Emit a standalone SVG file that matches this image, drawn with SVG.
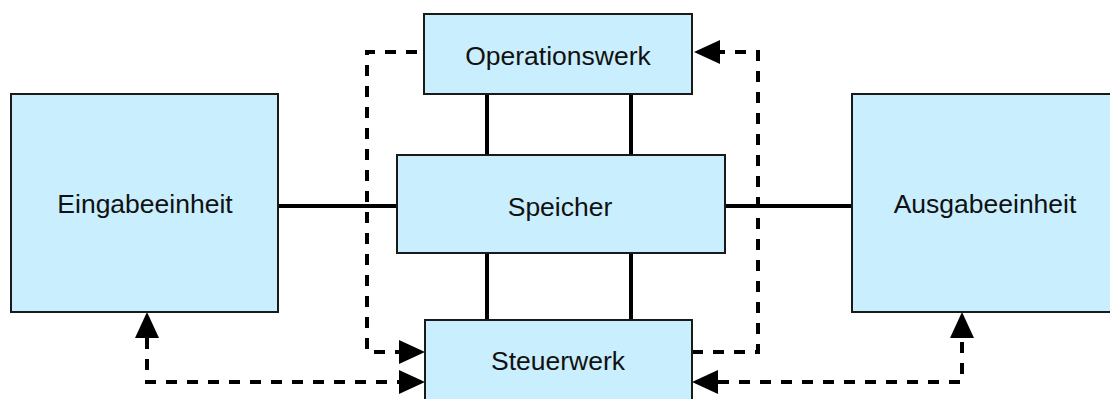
<svg xmlns="http://www.w3.org/2000/svg" width="1110" height="399" viewBox="0 0 1110 399">
<style>
.box{fill:#c9eefd;stroke:#1a1a1a;stroke-width:2}
.lbl{font-family:"Liberation Sans",Arial,sans-serif;font-size:26.5px;fill:#111;text-anchor:middle}
.solid{stroke:#000;stroke-width:4;fill:none}
.dash{stroke:#000;stroke-width:4;fill:none;stroke-dasharray:11 10}
</style>
<defs>
<marker id="ah" markerUnits="userSpaceOnUse" markerWidth="26" markerHeight="24" viewBox="0 0 26 24" refX="0" refY="12" orient="auto-start-reverse">
<path d="M0,0 L26,12 L0,24 z" fill="#000"/>
</marker>
</defs>
<g id="connectors">
<line class="solid" x1="487" y1="94" x2="487" y2="155"/>
<line class="solid" x1="631" y1="94" x2="631" y2="155"/>
<line class="solid" x1="487" y1="253" x2="487" y2="320"/>
<line class="solid" x1="631" y1="253" x2="631" y2="320"/>
<line class="solid" x1="278" y1="206" x2="397" y2="206"/>
<line class="solid" x1="725" y1="206" x2="852" y2="206"/>
<path class="dash" d="M417,52 H367 V352 H399" marker-end="url(#ah)"/>
<path class="dash" d="M692,352 H758 V52 H720" marker-end="url(#ah)"/>
<path class="dash" d="M147,338 V382 H399" marker-start="url(#ah)" marker-end="url(#ah)"/>
<path class="dash" d="M718,382 H962 V338" marker-start="url(#ah)" marker-end="url(#ah)"/>
</g>
<g id="eingabeeinheit">
<rect class="box" x="11" y="94" width="267" height="218"/>
<text class="lbl" x="145" y="213">Eingabeeinheit</text>
</g>
<g id="ausgabeeinheit">
<rect class="box" x="852" y="94" width="267" height="218"/>
<text class="lbl" x="985" y="213">Ausgabeeinheit</text>
</g>
<g id="operationswerk">
<rect class="box" x="424" y="14" width="268" height="80"/>
<text class="lbl" x="558" y="65">Operationswerk</text>
</g>
<g id="speicher">
<rect class="box" x="397" y="155" width="328" height="98"/>
<text class="lbl" x="560" y="216">Speicher</text>
</g>
<g id="steuerwerk">
<rect class="box" x="425" y="320" width="267" height="90"/>
<text class="lbl" x="558" y="370">Steuerwerk</text>
</g>
</svg>
